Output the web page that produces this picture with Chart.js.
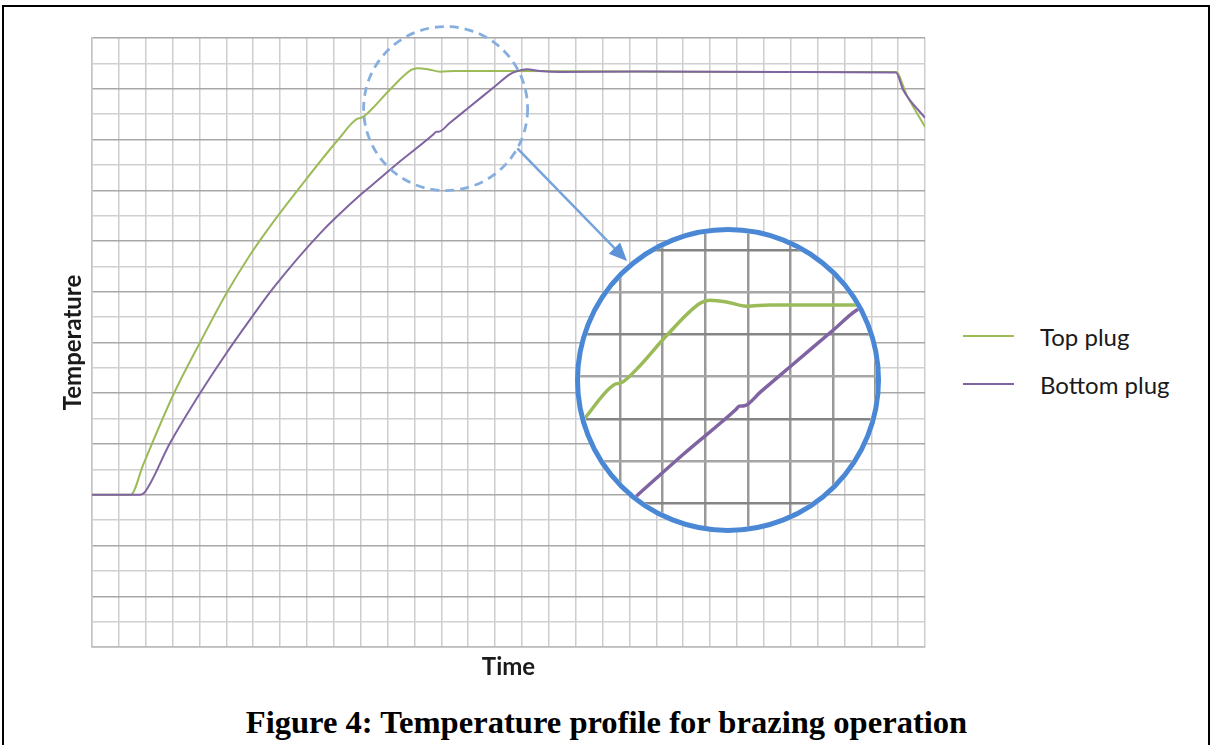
<!DOCTYPE html>
<html lang="en">
<head>
<meta charset="UTF-8">
<title>Temperature profile for brazing operation</title>
<script src="https://cdn.jsdelivr.net/npm/chart.js@4.4.3/dist/chart.umd.min.js"></script>
<style>
    html, body { margin: 0; padding: 0; background: #fff; }
    body { width: 1213px; height: 745px; position: relative; overflow: hidden; }
    #frame { position: absolute; left: 2px; top: 5px; width: 1208px; height: 800px; border: 2px solid #000; box-sizing: border-box; }
    #main { position: absolute; left: 0; top: 0; width: 940px; height: 690px; }
    #zoomBox { position: absolute; left: 575px; top: 227px; width: 306px; height: 306px; border: 5px solid #4a88d6;
               border-radius: 50%; overflow: hidden; background: #fff; box-sizing: border-box; }
    #zoomBox div { position: relative; width: 100%; height: 100%; }
    .legend-row { position: absolute; left: 963px; height: 30px; display: flex; align-items: center;
                  font-family: Lato, sans-serif; font-size: 24px; color: #1a1a1a; }
    .legend-row span.swatch { display: inline-block; width: 51px; height: 2px; margin-right: 26px; }
    #caption { position: absolute; left: 0; width: 1213px; top: 703px; text-align: center;
               font-family: "Liberation Serif", "Times New Roman", serif; font-weight: bold; font-size: 32.6px; line-height: 38px; }
</style>
</head>
<body>
<div id="frame"></div>
<div id="main"><canvas id="mainChart"></canvas></div>
<div id="zoomBox"><div><canvas id="zoomChart"></canvas></div></div>
<div id="legend"></div>
<div id="caption">Figure 4: Temperature profile for brazing operation</div>

<script>
    // values, one grid cell = 1 unit
    const topPlugTime = [0, 1.44, 1.91, 3.03, 4.02, 5.01, 5.88, 6.56, 7.74, 9.18, 9.88, 9.98, 10.1, 10.45, 11.1, 11.88, 12.11, 12.5, 12.97, 13.52, 15.47, 20.0, 25.7, 29.92, 30.32, 31.0];
    const topPlugTemp = [6, 6, 7.2, 9.95, 12.0, 13.95, 15.45, 16.48, 18.12, 20.02, 20.82, 20.84, 20.9, 21.24, 21.98, 22.74, 22.81, 22.77, 22.67, 22.70, 22.70, 22.68, 22.66, 22.66, 21.75, 20.5];

    const bottomPlugTime = [0, 1.79, 1.94, 2.90, 4.02, 4.95, 5.88, 6.75, 8.49, 9.97, 10.42, 11.5, 12.72, 12.8, 12.92, 13.3, 14.0, 15.0, 15.56, 15.81, 16.18, 16.67, 17.42, 20.39, 25.7, 29.92, 30.19, 31.0];
    const bottomPlugTemp = [6, 6, 6.07, 8.03, 10.0, 11.5, 12.9, 14.15, 16.3, 17.8, 18.2, 19.17, 20.22, 20.3, 20.31, 20.64, 21.24, 22.1, 22.58, 22.69, 22.77, 22.70, 22.66, 22.68, 22.66, 22.64, 21.95, 20.85];

    const seriesNames = ['Top plug', 'Bottom plug'];
    const seriesColors = ['#9bbb59', '#8064a2'];

    const timeRange = [0, 31];
    const tempRange = [0, 24];
    // the part of the curve that is blown up in the round inset
    const zoomTimeRange = [9.06, 16.01];
    const zoomTempRange = [17.41, 24.43];
    const zoomSpot = [13.16, 21.22];

    function points(xs, ys) {
        return xs.map((x, i) => ({ x: x, y: ys[i] }));
    }

    function makeDatasets(width) {
        return [
            { label: seriesNames[0], data: points(topPlugTime, topPlugTemp), borderColor: seriesColors[0],
              borderWidth: width, pointRadius: 0, cubicInterpolationMode: 'monotone', order: 1 },
            { label: seriesNames[1], data: points(bottomPlugTime, bottomPlugTemp), borderColor: seriesColors[1],
              borderWidth: width, pointRadius: 0, cubicInterpolationMode: 'monotone', order: 0 }
        ];
    }

    const evenDark = (dark, light) => (ctx) => (ctx.tick && ctx.tick.value % 2 === 0) ? dark : light;

    // dashed circle + arrow pointing at the inset
    const zoomMarker = {
        id: 'zoomMarker',
        afterDatasetsDraw(chart) {
            const { ctx, scales: { x, y } } = chart;
            const cx = x.getPixelForValue(zoomSpot[0]);
            const cy = y.getPixelForValue(zoomSpot[1]);
            const r = 82;
            ctx.save();
            ctx.strokeStyle = '#86afe0';
            ctx.lineWidth = 2.8;
            ctx.setLineDash([9, 6]);
            ctx.beginPath();
            ctx.arc(cx, cy, r, 0, Math.PI * 2);
            ctx.stroke();

            const a = 29 * Math.PI / 180;
            const sx = cx + r * Math.cos(a), sy = cy + r * Math.sin(a);
            const ex = 627, ey = 261;
            const ang = Math.atan2(ey - sy, ex - sx);
            ctx.setLineDash([]);
            ctx.strokeStyle = '#76a3dc';
            ctx.fillStyle = '#5b92d8';
            ctx.lineWidth = 2.5;
            ctx.beginPath();
            ctx.moveTo(sx, sy);
            ctx.lineTo(ex - 12 * Math.cos(ang), ey - 12 * Math.sin(ang));
            ctx.stroke();
            ctx.beginPath();
            ctx.moveTo(ex, ey);
            ctx.lineTo(ex - 18 * Math.cos(ang) + 8 * Math.sin(ang), ey - 18 * Math.sin(ang) - 8 * Math.cos(ang));
            ctx.lineTo(ex - 18 * Math.cos(ang) - 8 * Math.sin(ang), ey - 18 * Math.sin(ang) + 8 * Math.cos(ang));
            ctx.closePath();
            ctx.fill();
            ctx.restore();
        }
    };

    const mainChart = new Chart(document.getElementById('mainChart'), {
        type: 'line',
        data: { datasets: makeDatasets(2) },
        options: {
            responsive: true,
            maintainAspectRatio: false,
            animation: false,
            layout: { padding: { left: 0, top: 38, right: 15, bottom: 0 } },
            plugins: { legend: { display: false }, tooltip: { enabled: false } },
            scales: {
                x: {
                    type: 'linear', min: timeRange[0], max: timeRange[1],
                    ticks: { display: false, stepSize: 1 },
                    grid: { color: '#cdcdcd', lineWidth: 1.5, drawTicks: false },
                    border: { color: '#bdbdbd', width: 1.5 },
                    title: { display: true, text: 'Time', color: '#1a1a1a', padding: { top: 0, bottom: 8 },
                             font: { family: 'Lato', size: 24, weight: 'bold' } },
                    afterFit: (s) => { s.height = 43; }
                },
                y: {
                    type: 'linear', min: tempRange[0], max: tempRange[1],
                    ticks: { display: false, stepSize: 1 },
                    grid: { color: evenDark('#a8a8a8', '#d0d0d0'), lineWidth: 1.5, drawTicks: false },
                    border: { color: '#c4c4c4', width: 1.5 },
                    title: { display: true, text: 'Temperature', color: '#1a1a1a', padding: { top: 59, bottom: 0 },
                             font: { family: 'Lato', size: 24, weight: 'bold' } },
                    afterFit: (s) => { s.width = 92; }
                }
            }
        },
        plugins: [zoomMarker]
    });

    new Chart(document.getElementById('zoomChart'), {
        type: 'line',
        data: { datasets: makeDatasets(3.5) },
        options: {
            responsive: true,
            maintainAspectRatio: false,
            animation: false,
            layout: { padding: 0 },
            plugins: { legend: { display: false }, tooltip: { enabled: false } },
            scales: {
                x: {
                    type: 'linear', min: zoomTimeRange[0], max: zoomTimeRange[1],
                    ticks: { display: false, stepSize: 1, includeBounds: false },
                    grid: { color: '#999999', lineWidth: 2.5, drawTicks: false },
                    border: { display: false },
                    afterFit: (s) => { s.height = 0; }
                },
                y: {
                    type: 'linear', min: zoomTempRange[0], max: zoomTempRange[1],
                    ticks: { display: false, stepSize: 1, includeBounds: false },
                    grid: { color: evenDark('#858585', '#a6a6a6'), lineWidth: 2.5, drawTicks: false },
                    border: { display: false },
                    afterFit: (s) => { s.width = 0; }
                }
            }
        }
    });

    // legend on the right, built from the chart's own datasets
    const legendEl = document.getElementById('legend');
    mainChart.data.datasets.forEach((ds, i) => {
        const row = document.createElement('div');
        row.className = 'legend-row';
        row.style.top = (321 + i * 48) + 'px';
        const sw = document.createElement('span');
        sw.className = 'swatch';
        sw.style.background = ds.borderColor;
        row.appendChild(sw);
        row.appendChild(document.createTextNode(ds.label));
        legendEl.appendChild(row);
    });
</script>
</body>
</html>
